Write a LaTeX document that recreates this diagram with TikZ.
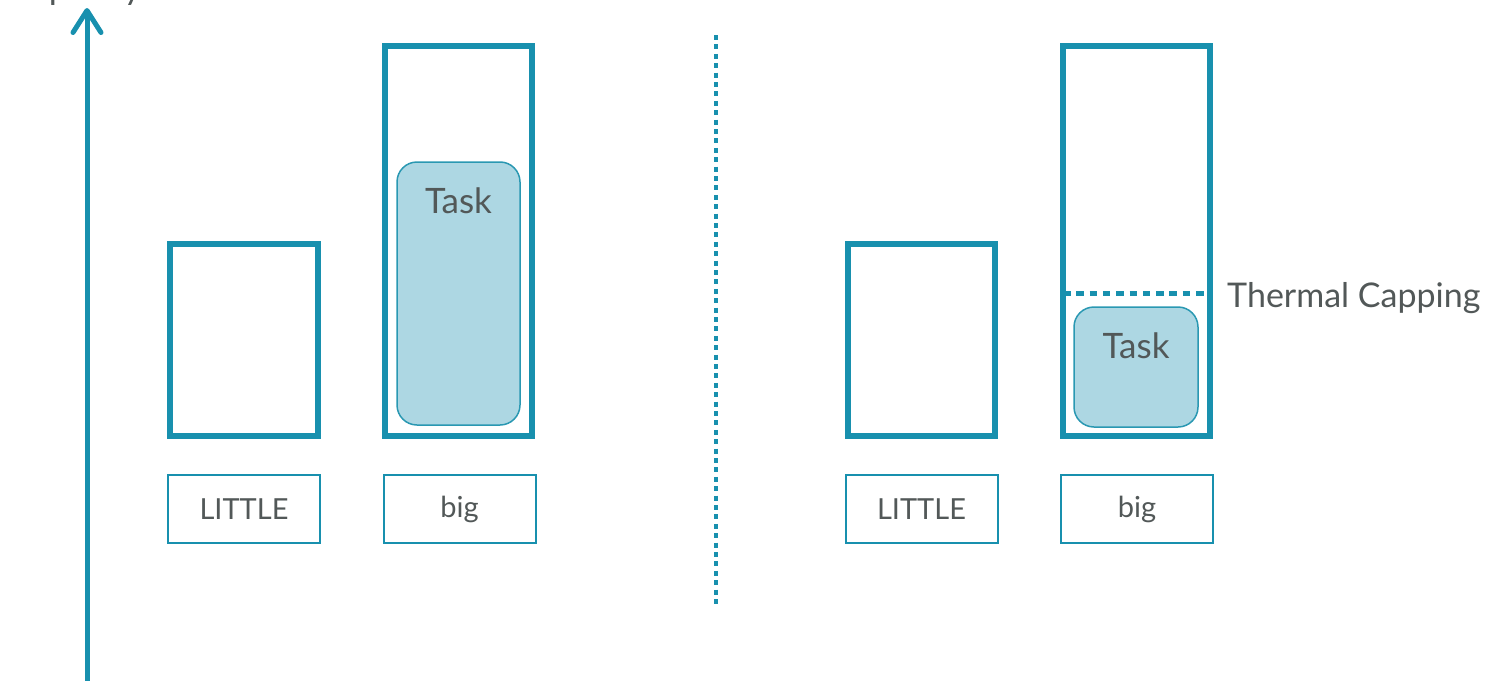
\documentclass[tikz,border=0pt]{standalone}
\usepackage{fontspec}
\setmainfont{Lato}
\usetikzlibrary{arrows.meta}
\definecolor{capc}{HTML}{1890AE}
\definecolor{taskfill}{HTML}{ADD7E3}
\definecolor{taskline}{HTML}{2A98B2}
\definecolor{txt}{HTML}{525858}
\begin{document}
\begin{tikzpicture}[x=1pt,y=-1pt,
  core/.style={draw=capc, line width=6.5pt, minimum width=147pt, inner sep=0pt},
  taskbox/.style={draw=taskline, fill=taskfill, line width=1.5pt, rounded corners=20pt, inner sep=0pt},
  tasktext/.style={text=txt, font=\fontsize{35}{40}\selectfont, inner sep=0pt},
  lab/.style={draw=capc, line width=2pt, minimum width=152pt, minimum height=68pt, inner sep=0pt, text=txt, font=\fontsize{29}{34}\selectfont},
  dots/.style={draw=capc, line width=5pt},
]
\useasboundingbox (0,0) rectangle (1491,680);
\clip (0,0) rectangle (1491,680);
% axis
\node[anchor=base west, text=txt, font=\fontsize{35}{40}\selectfont, inner sep=0pt] (captitle) at (8,-1) {Capacity};
\coordinate (axbot) at (87,690);
\coordinate (axtop) at (87,8);
\draw[capc, line width=5pt, -{Straight Barb[length=22pt, width=28pt, round]}] (axbot) -- (axtop);
% left side
\node[core, minimum width=148pt, minimum height=192pt] (lL) at (244,340) {};
\node[core, minimum height=390pt] (lB) at (458.5,241) {};
\node[taskbox, minimum width=123pt, minimum height=263pt] (lT) at (458.5,293.5) {};
\node[tasktext] (lTt) at (458.5,201) {Task};
\node[lab] (lLl) at (244,509) {LITTLE};
\node[lab] (lBl) at (459.5,509) {big};
% divider
\coordinate (dtop) at (716,35);
\coordinate (dbot) at (716,607);
\draw[dots, line width=4.5pt, dash pattern=on 5pt off 4.4pt] (dtop) -- (dbot);
% right side
\node[core, minimum height=192pt] (rL) at (921.5,340) {};
\node[core, minimum height=390pt] (rB) at (1136.5,241) {};
\coordinate (capl) at (1063,293);
\coordinate (capr) at (1210,293);
\draw[dots, dash pattern=on 7.5pt off 5.8pt] (capl) -- (capr);
\node[anchor=base west, text=txt, font=\fontsize{34}{40}\selectfont, inner sep=0pt] (thc) at (1227,307) {Thermal Capping};
\node[taskbox, minimum width=124pt, minimum height=120pt] (rT) at (1136,367) {};
\node[tasktext] (rTt) at (1136,346) {Task};
\node[lab] (rLl) at (921.5,509) {LITTLE};
\node[lab] (rBl) at (1137,509) {big};
\end{tikzpicture}
\end{document}
